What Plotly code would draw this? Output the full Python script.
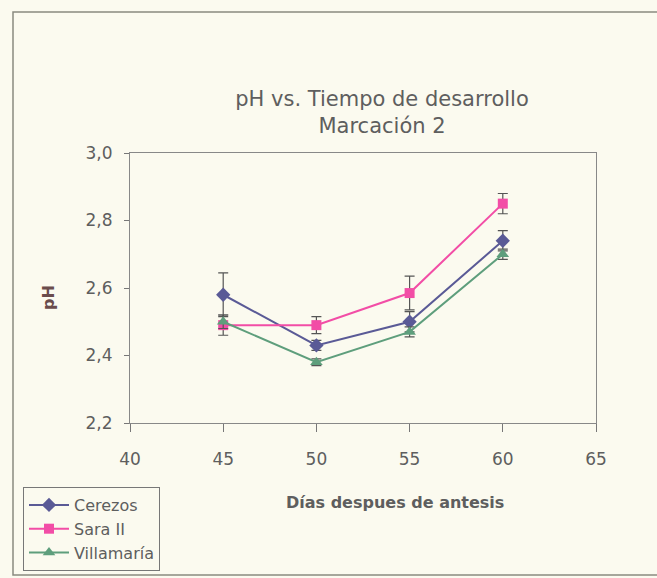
import plotly.graph_objects as go

dias = [45, 50, 55, 60]
cerezos = [2.58, 2.43, 2.50, 2.74]
cerezos_err = [0.065, 0.015, 0.03, 0.03]
sara = [2.49, 2.49, 2.585, 2.85]
sara_err = [0.03, 0.025, 0.05, 0.03]
villamaria = [2.50, 2.38, 2.47, 2.70]
villamaria_err = [0.02, 0.01, 0.015, 0.015]

bg = "#FBFAEF"
txt = "#5E5E5E"
FONT = "DejaVu Sans, Liberation Sans, Arial, sans-serif"
W, H = 657, 578
L, T, R, B = 130, 153, 596, 423

fig = go.Figure()
series = [
    ("Cerezos", cerezos, cerezos_err, "#5A5A96", "diamond", 11),
    ("Sara II", sara, sara_err, "#F24DA6", "square", 10),
    ("Villamaría", villamaria, villamaria_err, "#5E9E7C", "triangle-up", 11),
]
for name, y, err, col, sym, sz in series:
    fig.add_trace(go.Scatter(
        x=dias, y=y, name=name, mode="lines+markers",
        line=dict(color=col, width=2),
        marker=dict(symbol=sym, size=sz, color=col),
        error_y=dict(type="data", array=err, visible=True, color="#555555", thickness=1.2, width=5),
    ))

fig.update_layout(
    width=W, height=H,
    paper_bgcolor=bg, plot_bgcolor=bg,
    margin=dict(l=L, r=W - R, t=T, b=H - B, autoexpand=False),
    font=dict(family=FONT, color=txt, size=16),
    title=dict(text="pH vs. Tiempo de desarrollo<br>Marcación 2", x=382 / W, xanchor="center",
               y=1 - 106 / H, yanchor="middle", font=dict(size=21, color=txt)),
    xaxis=dict(range=[40, 65], dtick=5, showgrid=False, zeroline=False, ticks="outside",
               ticklen=8, tickcolor="#777", showline=True, linecolor="#888", mirror=True,
               tickfont=dict(size=17, color=txt), ticklabelstandoff=13),
    yaxis=dict(range=[2.2, 3.0], dtick=0.2, tickformat=".1f",
               showgrid=False, zeroline=False, ticks="outside", ticklen=5, tickcolor="#777",
               showline=True, linecolor="#888", mirror=True,
               tickfont=dict(size=17, color=txt), ticklabelstandoff=8),
    separators=",.",
    legend=dict(xref="container", yref="container", x=23 / W, y=1 - 487 / H,
                xanchor="left", yanchor="top", bgcolor=bg,
                bordercolor="#777", borderwidth=1, font=dict(size=16, color=txt),
                tracegroupgap=0, itemwidth=40),
    showlegend=True,
)
pw, ph = R - L, B - T
fig.add_annotation(text="<b>Días despues de antesis</b>", xref="paper", yref="paper",
                   x=(395 - L) / pw, y=(B - 502) / ph, xanchor="center", yanchor="middle",
                   showarrow=False, font=dict(size=16, color=txt))
fig.add_annotation(text="<b>pH</b>", xref="paper", yref="paper", textangle=-90,
                   x=(48 - L) / pw, y=(B - 298) / ph, xanchor="center", yanchor="middle",
                   showarrow=False, font=dict(size=16, color="#6A4C4C"))
fig.add_shape(type="rect", xref="paper", yref="paper",
              x0=(13 - L) / pw, x1=(700 - L) / pw, y0=(B - 575) / ph, y1=(B - 12) / ph,
              line=dict(color="#8A8A80", width=1.5))
fig.write_html("out.html")
